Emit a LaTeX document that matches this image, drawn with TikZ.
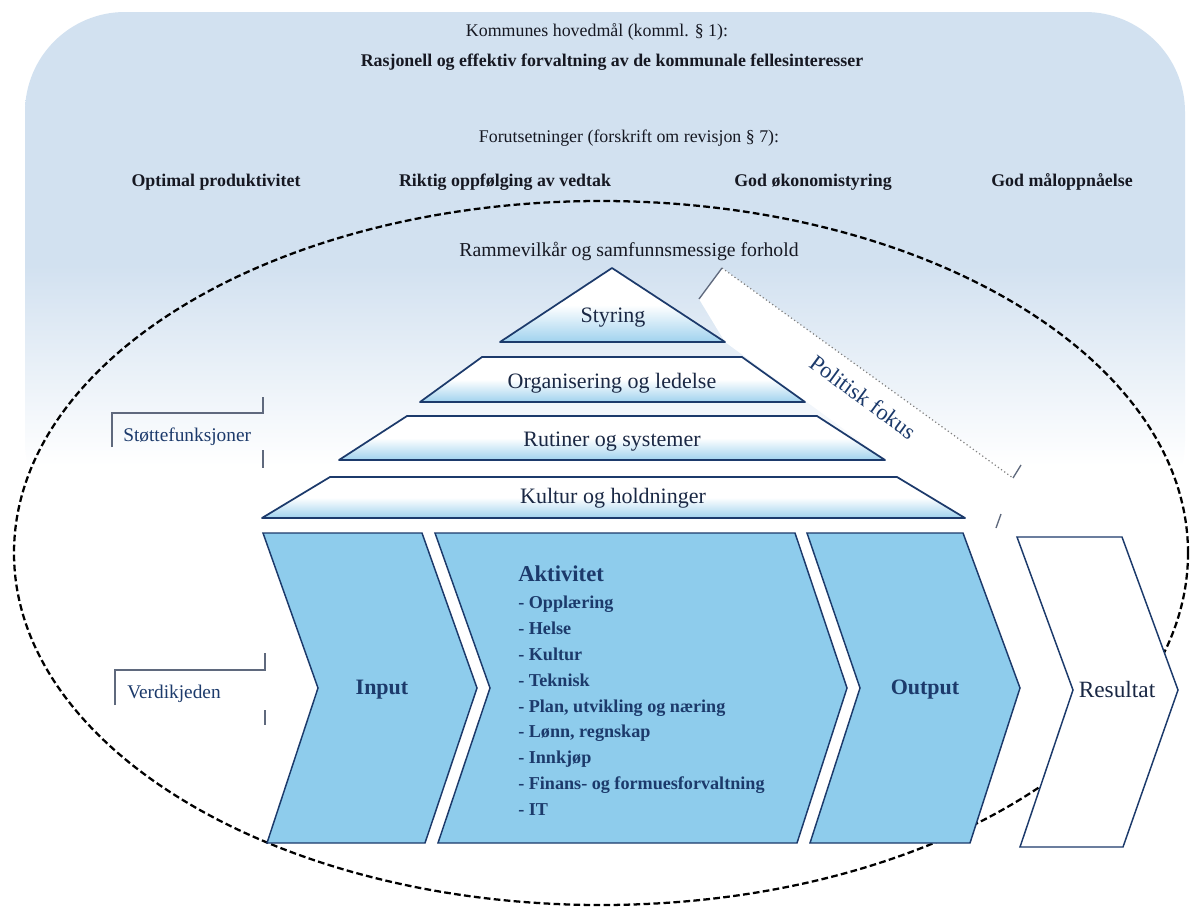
\documentclass[tikz,border=0pt]{standalone}
\usepackage{fontspec}
\setmainfont{Liberation Serif}
\definecolor{bgb}{RGB}{210,225,240}
\definecolor{chevb}{RGB}{142,204,236}
\definecolor{sliceb}{RGB}{160,210,238}
\definecolor{navy}{RGB}{28,58,107}
\definecolor{ink}{RGB}{22,24,34}
\definecolor{pyrink}{RGB}{26,40,68}
\definecolor{brkc}{RGB}{95,105,125}
\pgfdeclareverticalshading{bgfade}{100bp}{color(0bp)=(white); color(25bp)=(white); color(32bp)=(white); color(51bp)=(bgb); color(75bp)=(bgb); color(100bp)=(bgb)}
\begin{document}
\begin{tikzpicture}[x=0.75pt,y=-0.75pt,
  toptext/.style={text=ink, inner sep=0pt, anchor=base, font=\fontsize{13.4}{16}\selectfont},
  topbold/.style={toptext, font=\fontsize{13.4}{16}\selectfont\bfseries},
  slice/.style={draw=navy, line width=1.3pt, top color=white, bottom color=sliceb, middle color=white, line join=round},
  slicelabel/.style={text=pyrink, inner sep=0pt, anchor=base, font=\fontsize{16.5}{19}\selectfont},
  chev/.style={draw=navy, line width=1.1pt, fill=chevb, line join=miter},
  chevlabel/.style={text=navy, inner sep=0pt, font=\fontsize{16.5}{19}\selectfont\bfseries},
  actitem/.style={text=navy, inner sep=0pt, anchor=base west, font=\fontsize{13.6}{16}\selectfont\bfseries},
  brk/.style={draw=brkc, line width=1.1pt},
  sidelabel/.style={text=navy, inner sep=0pt, anchor=base west, font=\fontsize{14.5}{17}\selectfont},
  ellipsedash/.style={draw=black, line width=1.7pt, dash pattern=on 5pt off 2.5pt}
]
\useasboundingbox (0,0) rectangle (1192,907);
\fill[white] (0,0) rectangle (1192,907);
% background tinted region
\path[shading=bgfade, rounded corners=75pt]
  (25,540) -- (25,12) -- (1185,12) -- (1185,540) -- cycle;
% white band for "Politisk fokus"
\coordinate (pfA) at (722,268);
\coordinate (pfB) at (1013,478);
\coordinate (pfC) at (996,528);
\coordinate (pfD) at (699,299);
\fill[white] (pfA) -- (pfB) -- (pfC) -- (965,518) -- (725,342) -- (pfD) -- cycle;
\draw[gray, dotted, line width=0.9pt] (pfA) -- (pfB);
\draw[brkc, line width=1pt] (pfA) -- (pfD);
\draw[brkc, line width=1pt] (pfB) -- (1021,465);
\draw[brkc, line width=1pt] (pfC) -- (1001,514);
% dashed ellipse
\draw[ellipsedash] (601,553) ellipse [x radius=587, y radius=352];
% pyramid
\path[slice] (612,268) -- (725,342) -- (500,342) -- cycle;
\path[slice] (482,357) -- (742,357) -- (805,402) -- (420,402) -- cycle;
\path[slice] (407,416) -- (817,416) -- (885,460) -- (339,460) -- cycle;
\path[slice] (330,477) -- (897,477) -- (965,518) -- (262,518) -- cycle;
\node[slicelabel] (styring) at (613,322) {Styring};
\node[slicelabel] (org) at (612,388) {Organisering og ledelse};
\node[slicelabel] (rutiner) at (612,446) {Rutiner og systemer};
\node[slicelabel] (kultur) at (613,503) {Kultur og holdninger};
% chevrons
\path[chev] (263,533) -- (422,533) -- (477,688) -- (425,843) -- (267,843) -- (318,688) -- cycle;
\path[chev] (435,533) -- (795,533) -- (847,688) -- (797,843) -- (438,843) -- (490,688) -- cycle;
\path[chev] (807,533) -- (963,533) -- (1020,688) -- (970,843) -- (810,843) -- (860,688) -- cycle;
\path[chev, fill=white] (1017,537) -- (1122,537) -- (1178,690) -- (1123,847) -- (1020,847) -- (1073,690) -- cycle;
\node[chevlabel] (input) at (382,690) {Input};
\node[chevlabel] (output) at (925,690) {Output};
\node[chevlabel, font=\fontsize{17.5}{20}\selectfont, text=pyrink] (resultat) at (1117,690) {Resultat};
% activity list
\node[actitem, font=\fontsize{17}{20}\selectfont\bfseries] (akt) at (518,581) {Aktivitet};
\node[actitem] (a1) at (518,608) {- Opplæring};
\node[actitem] (a2) at (518,634) {- Helse};
\node[actitem] (a3) at (518,660) {- Kultur};
\node[actitem] (a4) at (518,686) {- Teknisk};
\node[actitem] (a5) at (518,712) {- Plan, utvikling og næring};
\node[actitem] (a6) at (518,737) {- Lønn, regnskap};
\node[actitem] (a7) at (518,763) {- Innkjøp};
\node[actitem] (a8) at (518,789) {- Finans- og formuesforvaltning};
\node[actitem] (a9) at (518,815) {- IT};
% top texts
\node[toptext] (hoved) at (597,36) {Kommunes hovedmål (komml. § 1):};
\node[topbold] (rasjonell) at (612,66) {Rasjonell og effektiv forvaltning av de kommunale fellesinteresser};
\node[toptext] (forut) at (629,142) {Forutsetninger (forskrift om revisjon § 7):};
\node[topbold] (f1) at (216,186) {Optimal produktivitet};
\node[topbold] (f2) at (505,186) {Riktig oppfølging av vedtak};
\node[topbold] (f3) at (813,186) {God økonomistyring};
\node[topbold] (f4) at (1062,186) {God måloppnåelse};
\node[toptext, font=\fontsize{14.8}{17}\selectfont] (ramme) at (629,256) {Rammevilkår og samfunnsmessige forhold};
% politisk fokus
\node[text=navy, inner sep=0pt, rotate=-36.3, font=\fontsize{17}{20}\selectfont] (politisk) at (863,397) {Politisk fokus};
% side labels with brackets
\draw[brk] (112,447) -- (112,413) -- (263,413) -- (263,397);
\draw[brk] (263,450) -- (263,468);
\node[sidelabel] (stotte) at (123,441) {Støttefunksjoner};
\draw[brk] (115,705) -- (115,670) -- (265,670) -- (265,653);
\draw[brk] (265,710) -- (265,725);
\node[sidelabel] (verdi) at (127,698) {Verdikjeden};
\end{tikzpicture}
\end{document}
